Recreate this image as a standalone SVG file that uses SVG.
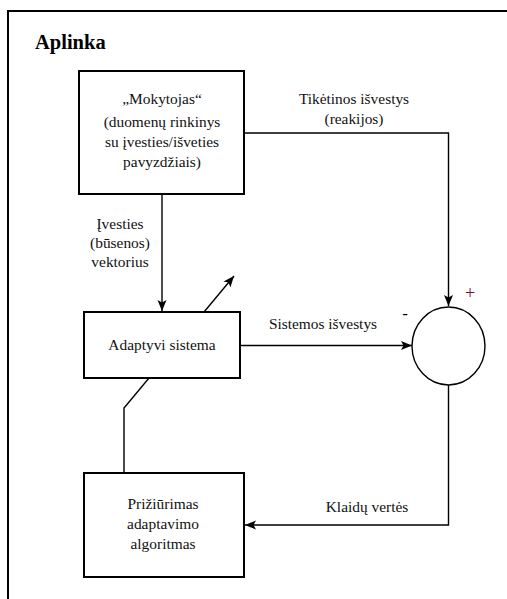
<svg xmlns="http://www.w3.org/2000/svg" width="507" height="599" viewBox="0 0 507 599">
<style>
.box{fill:#fff;stroke:#000;stroke-width:2}
.ln{fill:none;stroke:#000;stroke-width:1.4}
.t{font-family:'Liberation Serif','Times New Roman',serif;font-size:15.4px;fill:#111;text-anchor:middle}
.s{font-family:'Liberation Serif','Times New Roman',serif}
</style>
<defs>
<marker id="ah" viewBox="0 0 11 10" refX="11" refY="5" markerWidth="11" markerHeight="10" markerUnits="userSpaceOnUse" orient="auto">
<path d="M0,0.5 L11,5 L0,9.5 L2.5,5 Z" fill="#000"/>
</marker>
</defs>
<rect width="507" height="599" fill="#fff"/>
<g id="frame">
<path d="M8,599 V11 H507" fill="none" stroke="#000" stroke-width="2"/>
<text class="s" x="35" y="49" font-size="20.5" font-weight="bold" fill="#000">Aplinka</text>
</g>
<g id="connectors">
<path class="ln" d="M124,473 V408 L234,276" marker-end="url(#ah)"/>
<path class="ln" d="M162,194 V311" marker-end="url(#ah)"/>
<path class="ln" d="M244,133 H448.5 V306" marker-end="url(#ah)"/>
<path class="ln" d="M240,345.5 H412" marker-end="url(#ah)"/>
<path class="ln" d="M448.5,385 V525 H245" marker-end="url(#ah)"/>
</g>
<g id="labels">
<text class="t" x="354" y="104">Tikėtinos išvestys</text>
<text class="t" x="354" y="124">(reakijos)</text>
<text class="t" x="120" y="229">Įvesties</text>
<text class="t" x="120" y="248">(būsenos)</text>
<text class="t" x="120" y="267">vektorius</text>
<text class="t" x="323" y="329">Sistemos išvestys</text>
<text class="t" x="367" y="512">Klaidų vertės</text>
</g>
<g id="mokytojas">
<rect class="box" x="79" y="71" width="165" height="123"/>
<text class="t" x="162" y="104">„Mokytojas“</text>
<text class="t" x="162" y="127">(duomenų rinkinys</text>
<text class="t" x="162" y="147">su įvesties/išveties</text>
<text class="t" x="162" y="167">pavyzdžiais)</text>
</g>
<g id="adaptyvi">
<rect class="box" x="84" y="312" width="156" height="66"/>
<text class="t" x="162" y="350">Adaptyvi sistema</text>
</g>
<g id="priziurimas">
<rect class="box" x="84" y="473" width="160" height="104"/>
<text class="t" x="163" y="509">Prižiūrimas</text>
<text class="t" x="163" y="529">adaptavimo</text>
<text class="t" x="163" y="549">algoritmas</text>
</g>
<g id="sumator">
<ellipse cx="448.5" cy="346" rx="36.5" ry="39" fill="#fff" stroke="#000" stroke-width="1.4"/>
<text class="s" x="470" y="299" font-size="18" fill="#6b1030" text-anchor="middle">+</text>
<text class="s" x="405" y="319" font-size="17" fill="#000" text-anchor="middle">-</text>
</g>
</svg>
